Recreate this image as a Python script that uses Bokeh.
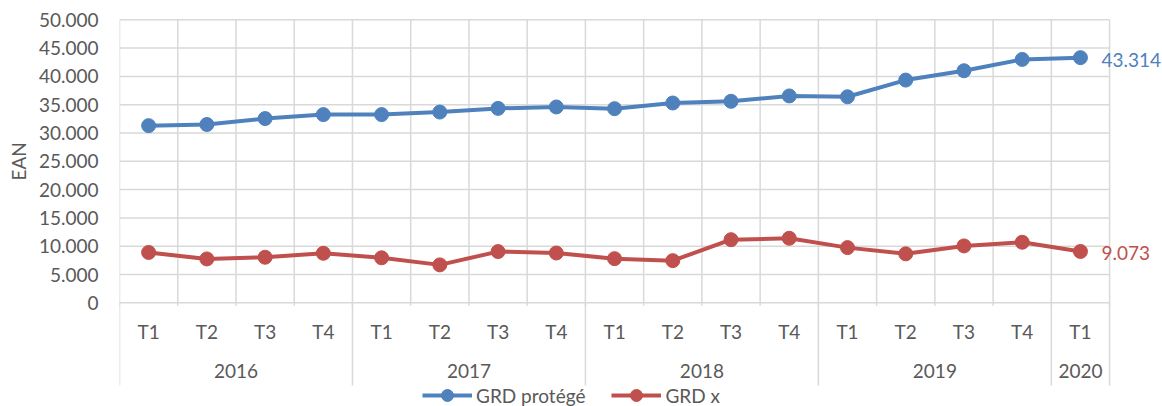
import math
import numpy as np
from bokeh.plotting import figure
from bokeh.models import Range1d, FixedTicker, Legend, LegendItem, Title
from bokeh.core.properties import value
from bokeh.embed import file_html
from bokeh.resources import INLINE

# ---------------- data ----------------
years = ["2016"] * 4 + ["2017"] * 4 + ["2018"] * 4 + ["2019"] * 4 + ["2020"]
quarters = ["T1", "T2", "T3", "T4"] * 4 + ["T1"]
grd_protege = [31300, 31500, 32550, 33250, 33250, 33700, 34350, 34600, 34300,
               35300, 35600, 36550, 36400, 39350, 41000, 43000, 43314]
grd_x = [8900, 7750, 8050, 8750, 7950, 6700, 9050, 8800, 7800,
         7450, 11150, 11400, 9750, 8650, 10050, 10700, 9073]
series_names = ["GRD protégé", "GRD x"]
y_ticks = [0, 5000, 10000, 15000, 20000, 25000, 30000, 35000, 40000, 45000, 50000]
y_tick_labels = ["0", "5.000", "10.000", "15.000", "20.000", "25.000",
                 "30.000", "35.000", "40.000", "45.000", "50.000"]
axis_title = "EAN"

# ---------------- style / geometry ----------------
FONT = "Lato"
FS = "19px"
TEXT = "#595959"
GRID = "#D9D9D9"
BLUE = "#4F81BD"
RED = "#C0504D"

W, H = 1162, 406
LEFT = 119
frame_w = W - LEFT
cat_px = 58.24
n = len(quarters)
x_end = frame_w / cat_px
ppu = 283.0 / 50000.0           # pixels per data unit
y_end = 50000 + 19.3 / ppu
y_start = -(H - 302.3) / ppu


def fmt(v):
    return f"{v:,.0f}".replace(",", ".")


xs = [i + 0.5 for i in range(n)]

p = figure(width=W, height=H, x_range=Range1d(0, x_end), y_range=Range1d(y_start, y_end),
           output_backend="svg", toolbar_location=None, x_axis_location=None,
           min_border_left=LEFT, min_border_right=0, min_border_top=0, min_border_bottom=0)
p.grid.visible = False
p.outline_line_color = None
p.background_fill_color = "white"
p.border_fill_color = "white"

# y axis
ax = p.yaxis[0]
ax.ticker = FixedTicker(ticks=y_ticks, minor_ticks=[])
ax.major_label_overrides = {t: l for t, l in zip(y_ticks, y_tick_labels)}
ax.axis_line_color = None
ax.major_tick_line_color = None
ax.minor_tick_line_color = None
ax.major_label_standoff = 15
ax.major_label_text_font = FONT
ax.major_label_text_font_size = FS
ax.major_label_text_color = TEXT

# horizontal grid lines
p.segment(x0=[0] * len(y_ticks), y0=y_ticks, x1=[n] * len(y_ticks), y1=y_ticks,
          line_color=GRID, line_width=1.5)
# vertical grid lines at category boundaries (with small ticks below)
bounds = list(range(n + 1))
p.segment(x0=bounds, y0=[-3 / ppu] * len(bounds), x1=bounds, y1=[y_ticks[-1]] * len(bounds),
          line_color=GRID, line_width=1.5)
# year separators
seps = [0] + [i for i in range(1, n) if years[i] != years[i - 1]] + [n]
p.segment(x0=seps, y0=[-82.7 / ppu] * len(seps), x1=seps, y1=[0] * len(seps),
          line_color=GRID, line_width=1.5)

# category labels
p.text(x=xs, y=[-28.4 / ppu] * n, text=quarters, text_align="center", text_baseline="middle",
       text_font=value(FONT), text_font_size=FS, text_color=TEXT)
year_names = [years[s] for s in seps[:-1]]
year_centers = [(a + b) / 2 for a, b in zip(seps[:-1], seps[1:])]
p.text(x=year_centers, y=[-68.4 / ppu] * len(year_names), text=year_names,
       text_align="center", text_baseline="middle",
       text_font=value(FONT), text_font_size=FS, text_color=TEXT)

# series
items = []
for vals, col, name in [(grd_protege, BLUE, series_names[0]), (grd_x, RED, series_names[1])]:
    rl = p.line(xs, vals, line_color=col, line_width=4)
    rm = p.scatter(xs, vals, size=14, fill_color=col, line_color=col)
    items.append(LegendItem(label=name, renderers=[rl, rm]))
    p.text(x=[xs[-1]], y=[vals[-1]], text=[fmt(vals[-1])], x_offset=21, y_offset=2,
           text_align="left", text_baseline="middle",
           text_font=value(FONT), text_font_size=FS, text_color=col)

legend = Legend(items=items, orientation="horizontal", location=(303, -4),
                glyph_width=50, glyph_height=30, label_standoff=4, spacing=26,
                padding=0, margin=0, border_line_color=None, background_fill_alpha=0,
                label_text_font=FONT, label_text_font_size=FS, label_text_color=TEXT)
p.add_layout(legend)

ytitle = Title(text=axis_title, align="left", offset=226, vertical_align="middle",
               text_font=FONT, text_font_size=FS, text_font_style="normal",
               text_color=TEXT, standoff=10)
p.add_layout(ytitle, "left")

open("out.html", "w").write(file_html(p, INLINE))
